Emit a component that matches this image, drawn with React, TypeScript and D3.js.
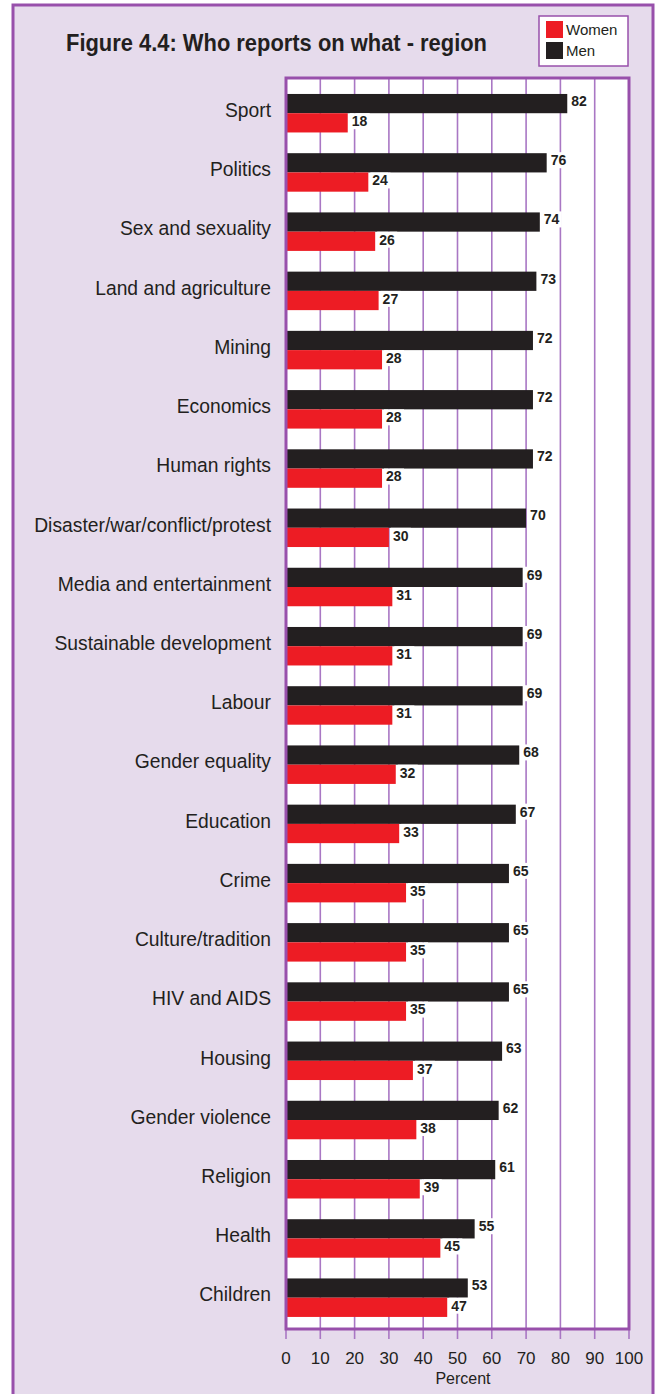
import React from "react";
import * as d3 from "d3";

const categories = [
  "Sport", "Politics", "Sex and sexuality", "Land and agriculture", "Mining", "Economics",
  "Human rights", "Disaster/war/conflict/protest", "Media and entertainment",
  "Sustainable development", "Labour", "Gender equality", "Education", "Crime",
  "Culture/tradition", "HIV and AIDS", "Housing", "Gender violence", "Religion", "Health", "Children",
];
const men = [82, 76, 74, 73, 72, 72, 72, 70, 69, 69, 69, 68, 67, 65, 65, 65, 63, 62, 61, 55, 53];
const women = [18, 24, 26, 27, 28, 28, 28, 30, 31, 31, 31, 32, 33, 35, 35, 35, 37, 38, 39, 45, 47];
const ticks = [0, 10, 20, 30, 40, 50, 60, 70, 80, 90, 100];
const seriesNames = ["Women", "Men"];

const W = 657, H = 1394;
const BG = "#e6dbec";
const PURPLE = "#9850ab";
const GRID = "#a977c4";
const RED = "#ed1c24";
const BLACK = "#231f20";
const FONT = "'Liberation Sans', Arial, Helvetica, sans-serif";

export default function App() {
  const plotL = 286, plotR = 629, plotT = 78, plotB = 1329;
  const x = d3.scaleLinear().domain([0, 100]).range([plotL, plotR]);
  const y = d3.scaleBand<string>().domain(categories).range([83.6, 1327.3]).paddingInner(0.35).paddingOuter(0.175);
  const bh = y.bandwidth() / 2;

  const valueLabel = (v: number, xx: number, yy: number, key: string) => (
    <g key={key}>
      <rect x={xx + 2} y={yy - 8} width={20} height={16} fill="#fff" />
      <text x={xx + 4} y={yy} dy="0.35em" fontSize={14} fontWeight="bold" fill={BLACK} fontFamily={FONT}>{v}</text>
    </g>
  );

  return (
    <svg width={W} height={H} style={{ position: "absolute", left: 0, top: 0, display: "block" }}>
      <rect x={0} y={0} width={W} height={H} fill="#fff" />
      <rect x={13} y={5} width={640} height={H + 10} fill={BG} stroke={PURPLE} strokeWidth={3} />
      <text x={66} y={51} fontSize={24} fontWeight="bold" fill={BLACK} fontFamily={"'Liberation Sans Narrow', " + FONT}
        textLength={421} lengthAdjust="spacingAndGlyphs">Figure 4.4: Who reports on what - region</text>

      {/* legend */}
      <rect x={539} y={16} width={89} height={50} fill="#fff" stroke={PURPLE} strokeWidth={1.5} />
      {seriesNames.map((s, i) => (
        <g key={s}>
          <rect x={546} y={21 + i * 21} width={17} height={17} fill={i === 0 ? RED : BLACK} />
          <text x={566} y={30 + i * 21} dy="0.35em" fontSize={15} fill={BLACK} fontFamily={FONT}>{s}</text>
        </g>
      ))}

      {/* plot */}
      <rect x={plotL} y={plotT} width={plotR - plotL} height={plotB - plotT} fill="#fff" />
      {ticks.map((t) => (
        <line key={"g" + t} x1={x(t)} x2={x(t)} y1={plotT} y2={1339} stroke={GRID} strokeWidth={1.6} />
      ))}

      {categories.map((c, i) => {
        const y0 = y(c)!;
        return (
          <g key={c}>
            <rect x={x(0)} y={y0} width={x(men[i]) - x(0)} height={bh} fill={BLACK} />
            <rect x={x(0)} y={y0 + bh} width={x(women[i]) - x(0)} height={bh} fill={RED} />
            <text x={271} y={y0 + bh - 3} dy="0.35em" textAnchor="end" fontSize={19.3} fill={BLACK} fontFamily={FONT}>{c}</text>
          </g>
        );
      })}
      {categories.map((c, i) => {
        const y0 = y(c)!;
        return (
          <g key={"v" + c}>
            {valueLabel(men[i], x(men[i]), y0 + 7, "m")}
            {valueLabel(women[i], x(women[i]), y0 + bh + 8, "w")}
          </g>
        );
      })}

      <rect x={plotL} y={plotT} width={plotR - plotL} height={plotB - plotT} fill="none" stroke={PURPLE} strokeWidth={3} />

      {ticks.map((t) => (
        <text key={"l" + t} x={x(t)} y={1358} dy="0.35em" textAnchor="middle" fontSize={17} fill={BLACK} fontFamily={FONT}>{t}</text>
      ))}
      <text x={463} y={1378} dy="0.35em" textAnchor="middle" fontSize={16} fill={BLACK} fontFamily={FONT}>Percent</text>
    </svg>
  );
}
